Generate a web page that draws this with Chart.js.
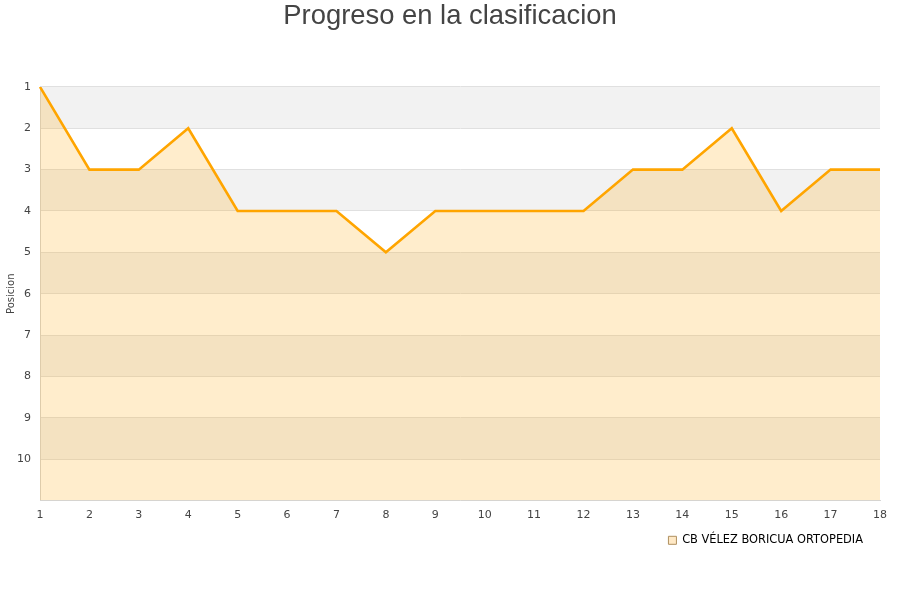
<!DOCTYPE html>
<html>
<head>
<meta charset="utf-8">
<script src="https://cdn.jsdelivr.net/npm/chart.js@4/dist/chart.umd.min.js"></script>
<style>
html,body{margin:0;padding:0;background:#fff;}
#wrap{width:900px;height:600px;}
</style>
</head>
<body>
<div id="wrap"><canvas id="c" width="900" height="600"></canvas></div>
<script>
const jornadas = ['1','2','3','4','5','6','7','8','9','10','11','12','13','14','15','16','17','18'];
const posiciones = [1,3,3,2,4,4,4,5,4,4,4,4,3,3,2,4,3,3];
const equipo = 'CB VÉLEZ BORICUA ORTOPEDIA';
const titulo = 'Progreso en la clasificacion';
const ejeY = 'Posicion';
const yMin = 1, yMax = 11;

const bandsPlugin = {
  id: 'bands',
  afterLayout(chart) {
    const x = chart.scales.x;
    x.bottom = x.top + 30;
  },
  beforeDraw(chart) {
    const {ctx, chartArea, scales} = chart;
    const y = scales.y;
    ctx.save();
    for (let v = yMin; v < yMax; v++) {
      const y1 = y.getPixelForValue(v), y2 = y.getPixelForValue(v + 1);
      ctx.fillStyle = ((v - yMin) % 2 === 0) ? '#f2f2f2' : '#ffffff';
      ctx.fillRect(chartArea.left, Math.min(y1, y2), chartArea.right - chartArea.left, Math.abs(y2 - y1));
    }
    ctx.restore();
  }
};

new Chart(document.getElementById('c'), {
  type: 'line',
  data: {
    labels: jornadas,
    datasets: [{
      label: equipo,
      data: posiciones,
      borderColor: '#ffa500',
      backgroundColor: 'rgba(255,165,0,0.2)',
      borderWidth: 2.6,
      pointRadius: 0,
      tension: 0,
      fill: {value: yMax}
    }]
  },
  options: {
    responsive: false,
    animation: false,
    layout: {padding: {left: 5, right: 5, top: 0, bottom: 44}},
    plugins: {
      title: {
        display: true,
        text: titulo,
        color: '#444',
        font: {family: 'Liberation Sans, Arial, sans-serif', size: 27.4, weight: 'normal'},
        padding: {top: 0, bottom: 54}
      },
      legend: {
        position: 'bottom',
        align: 'end',
        fullSize: false,
        labels: {
          boxWidth: 8, boxHeight: 8,
          padding: 17,
          color: '#222',
          font: {family: 'DejaVu Sans, sans-serif', size: 11.4},
          generateLabels(chart) {
            return [{text: equipo, fillStyle: '#ffe9c6', strokeStyle: '#b09060', lineWidth: 1, datasetIndex: 0}];
          }
        }
      },
      tooltip: {enabled: false}
    },
    scales: {
      x: {
        type: 'category',
        offset: false,
        afterFit(s) { s.height = 17; },
        grid: {display: false, drawTicks: false},
        border: {display: true, color: '#d6d6d6'},
        ticks: {color: '#444', font: {family: 'DejaVu Sans, sans-serif', size: 11}, padding: 8, maxRotation: 0, autoSkip: false}
      },
      y: {
        reverse: true,
        min: yMin, max: yMax,
        afterFit(s) { s.width = 35; },
        title: {display: true, text: ejeY, color: '#444', font: {family: 'DejaVu Sans, sans-serif', size: 10}, padding: 0},
        grid: {color: '#e0e0e0', drawTicks: false},
        border: {display: true, color: '#d6d6d6'},
        ticks: {
          stepSize: 1, color: '#444', padding: 9,
          font: {family: 'DejaVu Sans, sans-serif', size: 11},
          callback: (v) => v >= yMax ? '' : v
        }
      },
      yRight: {
        position: 'right',
        display: true,
        min: yMin, max: yMax,
        afterFit(s) { s.width = 15; },
        grid: {display: false, drawTicks: false},
        border: {display: false},
        ticks: {display: false}
      }
    }
  },
  plugins: [bandsPlugin]
});
</script>
</body>
</html>
